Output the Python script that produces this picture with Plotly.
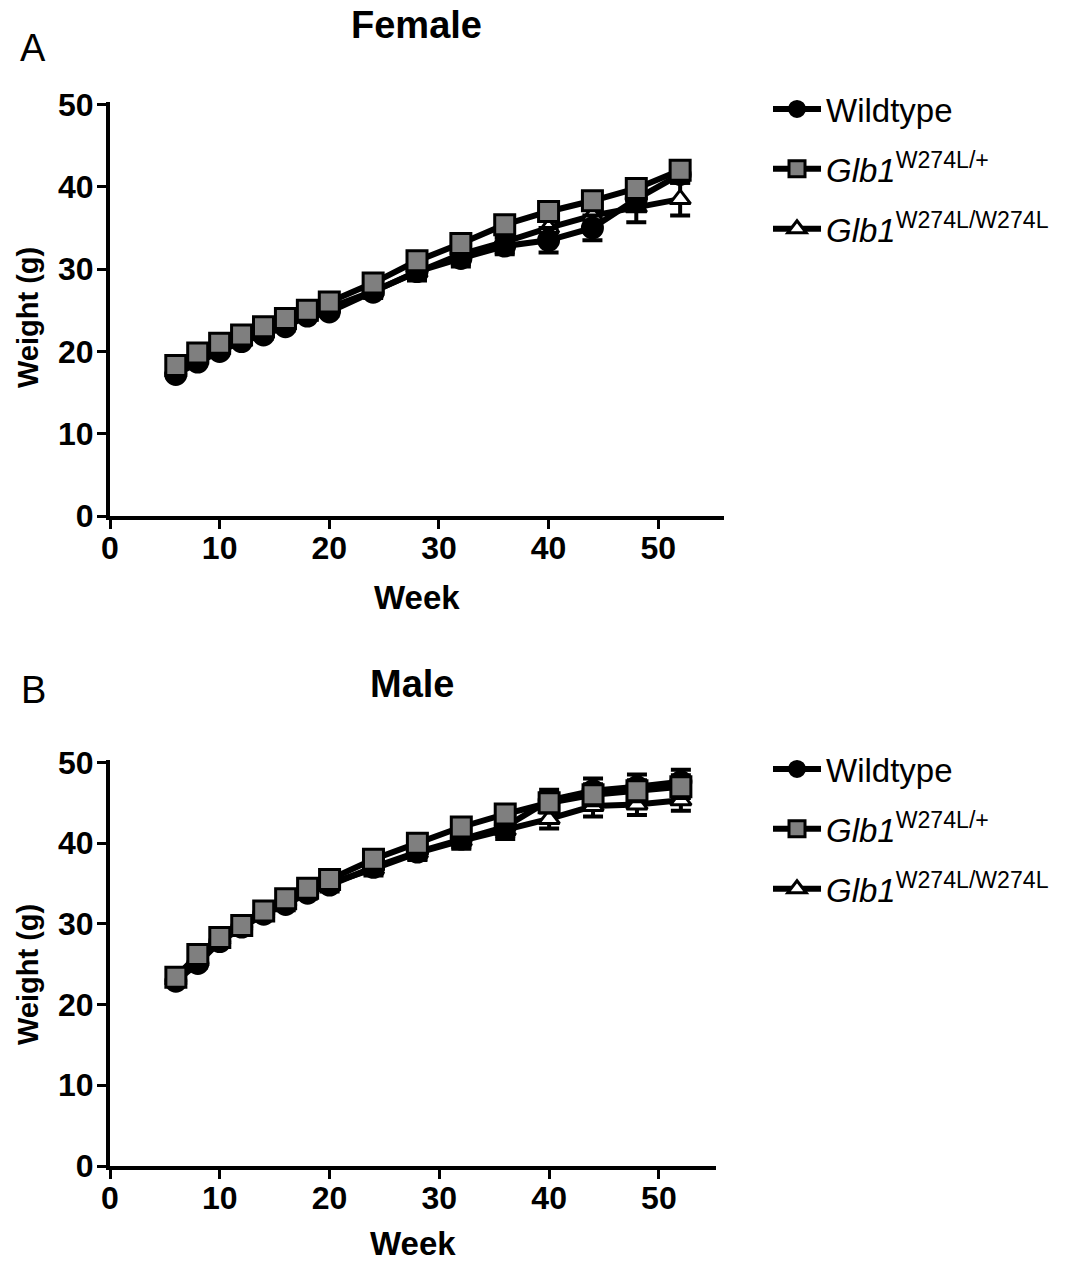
import plotly.graph_objects as go

weeks = [6, 8, 10, 12, 14, 16, 18, 20, 24, 28, 32, 36, 40, 44, 48, 52]

# Female
f_wt = [17.2, 18.7, 20.0, 21.2, 22.0, 23.0, 24.3, 24.8, 27.2, 29.7, 31.3, 32.8, 33.5, 35.0, 38.5, 41.5]
f_wt_err = [0.4, 0.4, 0.4, 0.4, 0.5, 0.5, 0.5, 0.5, 0.6, 0.8, 1.0, 1.0, 1.5, 1.5, 1.2, 1.0]
f_het = [18.3, 19.8, 21.0, 22.0, 23.0, 24.0, 25.0, 26.0, 28.3, 31.0, 33.1, 35.4, 37.0, 38.3, 39.8, 42.0]
f_het_err = [0.4, 0.4, 0.4, 0.4, 0.5, 0.5, 0.5, 0.6, 0.7, 0.8, 0.9, 0.9, 1.0, 1.0, 1.0, 1.0]
f_hom = [17.8, 19.3, 20.5, 21.6, 22.5, 23.5, 24.6, 25.3, 27.3, 29.6, 31.8, 33.3, 35.0, 36.5, 37.5, 38.5]
f_hom_err = [0.4, 0.4, 0.4, 0.4, 0.5, 0.5, 0.5, 0.6, 0.8, 1.0, 1.2, 1.3, 1.5, 1.6, 1.8, 2.0]

# Male
m_wt = [22.9, 25.1, 27.8, 29.6, 31.2, 32.4, 33.8, 34.8, 37.0, 38.9, 40.5, 42.0, 45.3, 46.5, 47.0, 47.6]
m_wt_err = [0.5, 0.5, 0.6, 0.6, 0.6, 0.7, 0.7, 0.8, 0.8, 0.9, 1.0, 1.1, 1.3, 1.5, 1.5, 1.5]
m_het = [23.4, 26.2, 28.3, 29.8, 31.6, 33.1, 34.4, 35.5, 38.0, 40.0, 42.0, 43.6, 45.0, 46.0, 46.5, 47.0]
m_het_err = [0.5, 0.5, 0.6, 0.6, 0.6, 0.7, 0.7, 0.8, 0.8, 0.9, 1.0, 1.1, 1.2, 1.3, 1.3, 1.4]
m_hom = [23.0, 25.6, 28.0, 29.7, 31.3, 32.7, 33.9, 35.0, 36.8, 38.8, 40.3, 41.6, 43.0, 44.6, 44.8, 45.3]
m_hom_err = [0.5, 0.5, 0.6, 0.6, 0.6, 0.7, 0.7, 0.8, 0.8, 0.9, 1.0, 1.1, 1.2, 1.3, 1.3, 1.3]

names = ["Wildtype", "<i>Glb1</i><sup>W274L/+</sup>", "<i>Glb1</i><sup>W274L/W274L</sup>"]
xticks = [0, 10, 20, 30, 40, 50]
yticks = [0, 10, 20, 30, 40, 50]

W, H = 1066, 1262
FONT = "Liberation Sans, Arial, sans-serif"

def px(x):
    return x / W

def py(y):
    return 1 - y / H

styles = {
    "wt": dict(symbol="circle", size=21, color="black", line=dict(color="black", width=2)),
    "het": dict(symbol="square", size=20, color="#7f7f7f", line=dict(color="black", width=3)),
    "hom": dict(symbol="triangle-up", size=18, color="white", line=dict(color="black", width=3)),
}

fig = go.Figure()

def add_panel(xa, ya, leg, wt, wte, het, hete, hom, home):
    data = {"wt": (wt, wte, names[0], 1), "het": (het, hete, names[1], 2), "hom": (hom, home, names[2], 3)}
    for key in ["hom", "wt", "het"]:
        y, e, nm, rank = data[key]
        fig.add_trace(go.Scatter(
            x=weeks, y=y, name=nm, mode="lines+markers",
            xaxis=xa, yaxis=ya, legend=leg, legendrank=rank, legendgroup=leg + key,
            line=dict(color="black", width=6),
            marker=styles[key],
            error_y=dict(type="data", array=e, color="black", thickness=4, width=10),
            cliponaxis=False,
        ))

add_panel("x", "y", "legend", f_wt, f_wt_err, f_het, f_het_err, f_hom, f_hom_err)
add_panel("x2", "y2", "legend2", m_wt, m_wt_err, m_het, m_het_err, m_hom, m_hom_err)

axis_common = dict(
    showline=True, linecolor="black", linewidth=4, ticks="outside", ticklen=9, tickwidth=3,
    tickcolor="black", showgrid=False, zeroline=False, automargin=False,
    tickfont=dict(family=FONT, size=32, color="black", weight="bold"),
)
xaxis_common = dict(ticklabelstandoff=-8, **axis_common)
yaxis_common = dict(ticklabelstandoff=-3, **axis_common)

legend_common = dict(
    xanchor="left", yanchor="top", font=dict(family=FONT, size=33, color="black"),
    tracegroupgap=14, itemwidth=48, bgcolor="rgba(0,0,0,0)",
)

fig.update_layout(
    width=W, height=H, paper_bgcolor="white", plot_bgcolor="white",
    margin=dict(l=0, r=0, t=0, b=0, autoexpand=False),
    showlegend=True,
    xaxis=dict(domain=[px(110), px(724)], range=[0, 56], tickvals=xticks, anchor="y", **xaxis_common),
    yaxis=dict(domain=[py(516), py(102)], range=[0, 50.3], tickvals=yticks, anchor="x", **yaxis_common),
    xaxis2=dict(domain=[px(110), px(716)], range=[0, 55.2], tickvals=xticks, anchor="y2", **xaxis_common),
    yaxis2=dict(domain=[py(1166), py(760)], range=[0, 50.3], tickvals=yticks, anchor="x2", **yaxis_common),
    legend=dict(x=px(768), y=py(81), **legend_common),
    legend2=dict(x=px(768), y=py(741), **legend_common),
)

def ann(text, x, y, size, bold=False, angle=0):
    fig.add_annotation(
        text=text, x=px(x), y=py(y), xref="paper", yref="paper", showarrow=False,
        xanchor="center", yanchor="middle", textangle=angle,
        font=dict(family=FONT, size=size, color="black", weight="bold" if bold else "normal"),
    )

ann("A", 33, 48, 38)
ann("B", 33, 690, 38)
ann("Female", 416, 25, 38, bold=True)
ann("Male", 412, 684, 38, bold=True)
ann("Week", 417, 597, 33, bold=True)
ann("Week", 413, 1243, 33, bold=True)
ann("Weight (g)", 28, 318, 29, bold=True, angle=-90)
ann("Weight (g)", 28, 975, 29, bold=True, angle=-90)

fig.write_html("out.html")
